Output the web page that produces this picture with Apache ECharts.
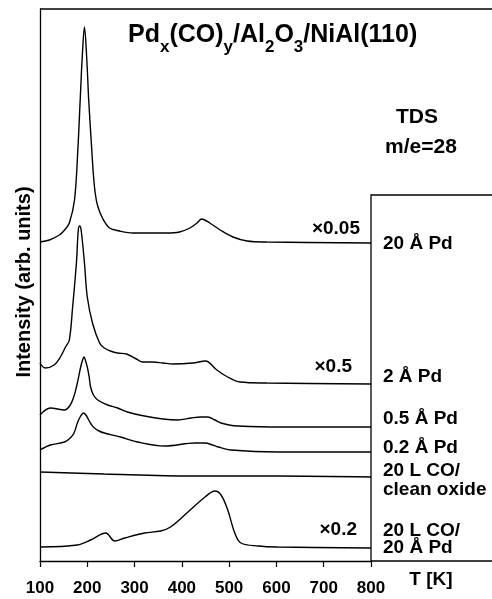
<!DOCTYPE html>
<html><head><meta charset="utf-8">
<script src="https://cdn.jsdelivr.net/npm/echarts@6/dist/echarts.min.js"></script>
<style>html,body{margin:0;padding:0;background:#fff}#c{width:492px;height:599px}</style>
</head><body><div id="c"></div>
<script>
// ---- data (T in K, intensity in arbitrary units incl. vertical offset) ----
const xTicks = [100, 200, 300, 400, 500, 600, 700, 800];
const pd20 = [[100,319],[120,321],[141,326],[152,331],[162,338],[173,361],[180,411],[185,461],[189,501],[194,534],[199,501],[203,461],[209.5,411],[213,386],[217,367],[222,355],[232,343],[247,333],[268,330],[296,328],[368,328],[395,329],[417,333],[432,338],[442,342],[459,338],[481,331],[508,324],[538,320],[580,319],[800,318]];
const pd2 = [[100,198],[111,193],[130,196],[143,204],[154,214],[162,221],[169,254],[177,298],[181,331],[184,335],[187,331],[194,298],[200,264],[211,238],[226,218],[236,213],[249,210],[264,208],[283,207],[304,202],[317,199],[339,199],[360,198],[381,197],[423,198],[450,200],[474,191],[497,184],[523,179],[580,178],[800,177]];
const pd05 = [[100,146],[122,153],[152,151],[164,156],[172,165],[179,178],[186,194],[190,201],[193,204],[197,199],[200,194],[204,184],[207,174],[213,166],[222,161],[243,156],[264,153],[285,149],[321,145],[360,142],[391,141],[420,143],[440,144],[455,144],[470,141],[483,138],[500,136],[519,135],[603,134],[800,134]];
const pd02 = [[100,111],[122,116],[152,119],[164,123],[172,128],[179,138],[186,145],[192,148],[197,146],[203,141],[208,137],[215,133],[225,130],[236,128],[270,124],[306,119],[364,115],[428,118],[449,118],[465,116],[477,114],[504,111],[603,109],[800,109]];
const cleanOxide = [[100,89],[236,87],[420,85],[603,85],[800,84]];
const coPd20 = [[100,14],[179,16],[207,21],[239,28],[258,20],[279,23],[321,28],[355,30],[376,34],[413,49],[449,64],[470,70],[483,66],[497,51],[512,28],[525,18],[561,15],[603,14],[800,13]];
const curves = [pd20, pd2, pd05, pd02, cleanOxide, coPd20];
const curveNames = ['20 Å Pd', '2 Å Pd', '0.5 Å Pd', '0.2 Å Pd', '20 L CO/clean oxide', '20 L CO/20 Å Pd'];

const FONT = '"Liberation Sans", Arial, sans-serif';
const chart = echarts.init(document.getElementById('c'));
chart.setOption({
  animation: false,
  grid: {left: 40, right: 121, top: 9, bottom: 38},
  xAxis: {
    type: 'value', min: 100, max: 800, interval: 100,
    axisLine: {lineStyle: {color: '#000', width: 1.3}},
    axisTick: {length: 6, lineStyle: {color: '#000', width: 1.2}},
    axisLabel: {color: '#000', fontSize: 17, fontWeight: 'bold', fontFamily: FONT, margin: 19,
      customValues: xTicks},
    splitLine: {show: false}
  },
  yAxis: {
    type: 'value', min: 0, max: 552,
    axisLine: {show: true, lineStyle: {color: '#000', width: 1.3}},
    axisTick: {show: false}, axisLabel: {show: false}, splitLine: {show: false}
  },
  series: curves.map((d, i) => ({
    name: curveNames[i], type: 'line', data: d, showSymbol: false,
    smooth: 0.35,
    lineStyle: {color: '#000', width: 1.4}
  }))
});

const p800 = chart.convertToPixel({gridIndex: 0}, [800, 0]);
const p100 = chart.convertToPixel({gridIndex: 0}, [100, 552]);
const xr = p800[0], yb = p800[1], xl = p100[0], yt = p100[1];
const txt = (text, x, y, align, size, extra) => Object.assign({
  type: 'text', x: x, y: y,
  style: {text: text, fill: '#000', font: 'bold ' + size + 'px ' + FONT, textAlign: align, textVerticalAlign: 'middle'}
}, extra || {});
const lineStyle = {stroke: '#000', lineWidth: 1.3};
chart.setOption({
  graphic: [
    {type: 'line', shape: {x1: xl, y1: yt, x2: 492, y2: yt}, style: lineStyle},
    {type: 'line', shape: {x1: xr, y1: yb, x2: 492, y2: yb}, style: lineStyle},
    {type: 'polyline', shape: {points: [[xr, yb], [xr, 195], [492, 195]]}, style: Object.assign({fill: null}, lineStyle)},
    {type: 'text', x: 128, y: 23, style: {
      text: '{m|Pd}{s|x}{m|(CO)}{s|y}{m|/Al}{s|2}{m|O}{s|3}{m|/NiAl(110)}',
      fill: '#000', textVerticalAlign: 'top',
      rich: {
        m: {fontSize: 25, fontWeight: 'bold', fontFamily: FONT, lineHeight: 30, verticalAlign: 'top', fill: '#000'},
        s: {fontSize: 17, fontWeight: 'bold', fontFamily: FONT, lineHeight: 18, padding: [16, 0, 0, 0], verticalAlign: 'top', fill: '#000'}
      }}},
    txt('TDS', 417, 117.5, 'center', 21),
    txt('m/e=28', 421, 147.5, 'center', 21),
    txt('Intensity (arb. units)', 24, 282, 'center', 20, {rotation: Math.PI / 2}),
    txt('T [K]', 431, 580, 'center', 19),
    txt('×0.05', 360, 228.5, 'right', 19),
    txt('×0.5', 352, 366.5, 'right', 19),
    txt('×0.2', 357, 530, 'right', 19),
    txt('20 Å Pd', 383, 243.5, 'left', 19),
    txt('2 Å Pd', 383, 376.5, 'left', 19),
    txt('0.5 Å Pd', 383, 419, 'left', 19),
    txt('0.2 Å Pd', 383, 448, 'left', 19),
    txt('20 L CO/', 383, 470.5, 'left', 19),
    txt('clean oxide', 383, 490, 'left', 19),
    txt('20 L CO/', 383, 531, 'left', 19),
    txt('20 Å Pd', 383, 548, 'left', 19)
  ]
});
</script></body></html>
